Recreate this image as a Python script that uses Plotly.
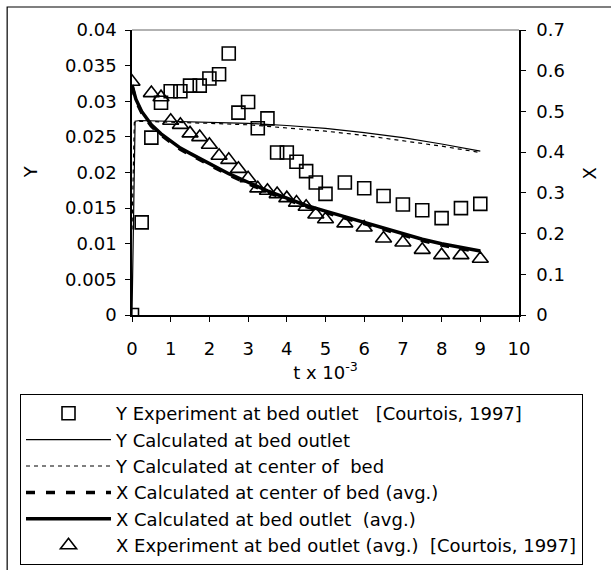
import plotly.graph_objects as go

# ---- data ----
t_exp_Y = [0, 0.25, 0.5, 0.75, 1.0, 1.25, 1.5, 1.75, 2.0, 2.25, 2.5, 2.75, 3.0, 3.25, 3.5,
           3.75, 4.0, 4.25, 4.5, 4.75, 5.0, 5.5, 6.0, 6.5, 7.0, 7.5, 8.0, 8.5, 9.0]
Y_exp = [0.0, 0.0130, 0.0249, 0.0298, 0.0314, 0.0314, 0.0322, 0.0322, 0.0332, 0.0338, 0.0367,
         0.0284, 0.0299, 0.0262, 0.0276, 0.0228, 0.0228, 0.0215, 0.0202, 0.0186, 0.0170,
         0.0186, 0.0178, 0.0167, 0.0155, 0.0147, 0.0136, 0.0150, 0.0156]

t_calc_Yout = [0, 0.08, 0.2, 1, 2, 3, 4, 5, 6, 7, 8, 9]
Y_calc_out = [0.0, 0.0272, 0.0273, 0.0272, 0.0271, 0.0269, 0.0266, 0.0262, 0.0256, 0.0249, 0.0240, 0.0230]

t_calc_Ycen = [0, 0.06, 0.2, 1, 2, 3, 4, 5, 6, 7, 8, 9]
Y_calc_cen = [0.012, 0.0270, 0.0272, 0.0271, 0.0269, 0.0267, 0.0263, 0.0258, 0.0252, 0.0245, 0.0237, 0.0228]

t_calc_X = [0, 0.1, 0.25, 0.5, 0.75, 1.0, 1.25, 1.5, 2.0, 2.5, 3.0, 3.5, 4.0, 4.5, 5.0, 5.5,
            6.0, 6.5, 7.0, 7.5, 8.0, 8.5, 9.0]
X_calc_cen = [0.562, 0.527, 0.497, 0.464, 0.442, 0.424, 0.407, 0.394, 0.369, 0.344, 0.323, 0.302,
              0.284, 0.266, 0.252, 0.238, 0.224, 0.210, 0.196, 0.183, 0.172, 0.162, 0.154]
X_calc_out = [0.565, 0.530, 0.500, 0.467, 0.445, 0.427, 0.410, 0.397, 0.372, 0.347, 0.326, 0.305,
              0.287, 0.269, 0.255, 0.241, 0.227, 0.213, 0.199, 0.186, 0.175, 0.165, 0.157]

t_exp_X = [0, 0.5, 0.75, 1.0, 1.25, 1.5, 1.75, 2.0, 2.25, 2.5, 2.75, 3.0, 3.25, 3.5, 3.75,
           4.0, 4.25, 4.5, 4.75, 5.0, 5.5, 6.0, 6.5, 7.0, 7.5, 8.0, 8.5, 9.0]
X_exp = [0.573, 0.545, 0.535, 0.477, 0.467, 0.446, 0.437, 0.418, 0.391, 0.381, 0.359, 0.336,
         0.311, 0.305, 0.297, 0.287, 0.276, 0.266, 0.247, 0.235, 0.225, 0.215, 0.188, 0.178,
         0.160, 0.147, 0.147, 0.138]

NB = "\u00a0"
names = [
    "Y Experiment at bed outlet" + NB * 3 + "[Courtois, 1997]",
    "Y Calculated at bed outlet",
    "Y Calculated at center of" + NB * 2 + "bed",
    "X Calculated at center of bed (avg.)",
    "X Calculated at bed outlet" + NB * 2 + "(avg.)",
    "X Experiment at bed outlet (avg.)" + NB * 2 + "[Courtois, 1997]",
]
x_title = "t x 10<sup>-3</sup>"
y_title = "Y"
y2_title = "X"

FONT = "DejaVu Sans, Verdana, sans-serif"

fig = go.Figure()
fig.add_trace(go.Scatter(x=t_exp_Y, y=Y_exp, mode="markers", name=names[0],
                         marker=dict(symbol="square-open", size=13, color="black",
                                     line=dict(width=1.6, color="black")),
                         yaxis="y"))
fig.add_trace(go.Scatter(x=t_calc_Yout, y=Y_calc_out, mode="lines", name=names[1],
                         line=dict(color="black", width=1.2), yaxis="y"))
fig.add_trace(go.Scatter(x=t_calc_Ycen, y=Y_calc_cen, mode="lines", name=names[2],
                         line=dict(color="black", width=1.2, dash="4px,4px"), yaxis="y"))
fig.add_trace(go.Scatter(x=t_calc_X, y=X_calc_cen, mode="lines", name=names[3],
                         line=dict(color="black", width=3.5, dash="9px,11px"), yaxis="y2"))
fig.add_trace(go.Scatter(x=t_calc_X, y=X_calc_out, mode="lines", name=names[4],
                         line=dict(color="black", width=3.5), yaxis="y2"))
fig.add_trace(go.Scatter(x=t_exp_X, y=X_exp, mode="markers", name=names[5],
                         marker=dict(symbol="triangle-up-open", size=14, color="black",
                                     line=dict(width=1.6, color="black")),
                         yaxis="y2"))

W, H = 611, 570
L, R, T, B = 132, 91.5, 30, 255
pw, ph = W - L - R, H - T - B

def px(xp):
    return (xp - L) / pw

def py(yp):
    return (H - B - yp) / ph

TF = dict(family=FONT, size=18, color="black")

fig.update_layout(
    width=W, height=H,
    margin=dict(l=L, r=R, t=T, b=B, autoexpand=False),
    paper_bgcolor="white", plot_bgcolor="white",
    font=TF,
    showlegend=True,
    xaxis=dict(range=[0, 10], dtick=1, tick0=0, showgrid=False, zeroline=False,
               showline=True, linecolor="black", linewidth=1.5, automargin=False,
               ticks="outside", ticklen=5, tickcolor="black", tickfont=TF,
               ticklabelstandoff=12,
               title=dict(text=x_title, standoff=6, font=TF)),
    yaxis=dict(range=[0, 0.04], dtick=0.005, tick0=0, showgrid=False, zeroline=False,
               showline=True, linecolor="black", linewidth=1.5, automargin=False,
               ticks="outside", ticklen=5, tickcolor="black", tickfont=TF,
               ticklabelstandoff=5),
    yaxis2=dict(range=[0, 0.7], dtick=0.1, tick0=0, overlaying="y", side="right",
                showgrid=False, zeroline=False, automargin=False,
                showline=True, linecolor="black", linewidth=1.5,
                ticks="outside", ticklen=5, tickcolor="black", tickfont=TF,
                ticklabelstandoff=7),
    legend=dict(xref="container", yref="container",
                x=20 / W, y=1 - 394 / H, xanchor="left", yanchor="top",
                bgcolor="white", bordercolor="black", borderwidth=1,
                font=dict(family=FONT, size=18, color="black"), tracegroupgap=0,
                itemwidth=85),
    annotations=[
        dict(text=y_title, xref="paper", yref="paper", x=px(30), y=py(172),
             showarrow=False, textangle=-90, font=TF, xanchor="center", yanchor="middle"),
        dict(text=y2_title, xref="paper", yref="paper", x=px(590), y=py(173),
             showarrow=False, textangle=-90, font=TF, xanchor="center", yanchor="middle"),
    ],
    shapes=[
        dict(type="line", xref="paper", yref="paper", x0=0, x1=1, y0=1, y1=1,
             line=dict(color="#999999", width=1.5)),
        dict(type="rect", xref="paper", yref="paper", x0=px(7), x1=px(630),
             y0=py(590), y1=py(7), line=dict(color="black", width=1.2)),
    ],
)

fig.write_html("out.html", config={"displayModeBar": False},
               post_script="document.body.style.margin='0';")
